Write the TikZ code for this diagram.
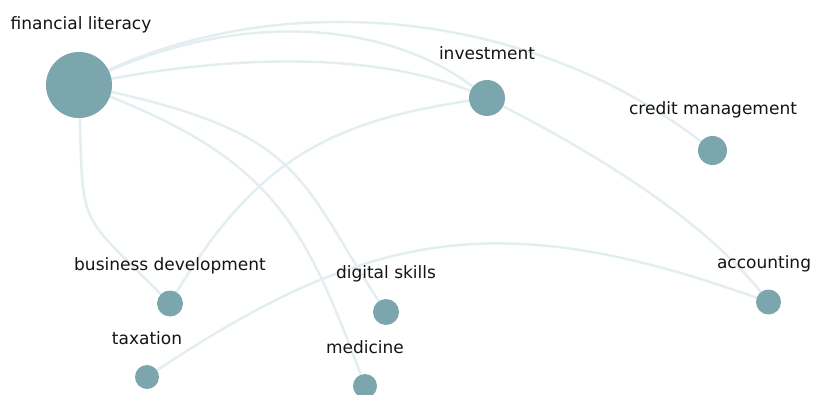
\documentclass[tikz,border=0pt]{standalone}
\usepackage{fontspec}
\setmainfont{DejaVu Sans}
\pgfdeclarelayer{bg}
\pgfdeclarelayer{edges}
\pgfsetlayers{bg,edges,main}
\definecolor{topicfill}{RGB}{123,166,173}
\definecolor{linkline}{RGB}{227,238,240}
\definecolor{labeltext}{RGB}{20,20,20}
\tikzset{
  topic/.style={circle, fill=topicfill, draw=none, inner sep=0pt, minimum size=#1},
  topiclabel/.style={anchor=base, inner sep=0pt, text=labeltext,
    font=\fontsize{17}{20}\selectfont},
  link/.style={draw=linkline, line width=2.4pt}
}
\begin{document}
\begin{tikzpicture}[x=1pt, y=-1pt]
\useasboundingbox (0,0) rectangle (818,395);
\begin{pgfonlayer}{bg}
\fill[white] (0,0) rectangle (818,395);
\end{pgfonlayer}

% topics
\node[topic=66pt] (fl)  at (79,85)    {};
\node[topic=36pt] (inv) at (487,98)   {};
\node[topic=29pt] (cm)  at (712.5,150.5) {};
\node[topic=26pt] (bd)  at (170,303.5) {};
\node[topic=26pt] (ds)  at (386,312)  {};
\node[topic=25pt] (acc) at (768.5,302) {};
\node[topic=24pt] (tax) at (147,377)  {};
\node[topic=24pt] (med) at (365,386)  {};

% labels
\node[topiclabel] (flL)  at (81,30)   {financial literacy};
\node[topiclabel] (invL) at (487,60)  {investment};
\node[topiclabel] (cmL)  at (713,115) {credit management};
\node[topiclabel] (bdL)  at (170,270) {business development};
\node[topiclabel] (dsL)  at (386,278) {digital skills};
\node[topiclabel] (taxL) at (147,344) {taxation};
\node[topiclabel] (medL) at (365,353) {medicine};
\node[topiclabel] (accL) at (764,268) {accounting};

% links
\begin{pgfonlayer}{edges}
\draw[link] (fl.center) .. controls (250,-10) and (520,-5) .. (cm.center);
\draw[link] (fl.center) .. controls (238.8,3.6) and (399.2,20.8) .. (inv.center);
\draw[link] (fl.center) .. controls (216,56) and (378,47) .. (inv.center);
\draw[link] (inv.center) .. controls (337,119.2) and (257.5,152.5) .. (bd.center);
\draw[link] (inv.center) .. controls (624,167) and (718,234) .. (acc.center);
\draw[link] (fl.center) .. controls (83.6,239.7) and (73.4,204.3) .. (bd.center);
\draw[link] (fl.center) .. controls (311,132) and (294,175) .. (ds.center);
\draw[link] (fl.center) .. controls (273.8,155.4) and (303.5,220.8) .. (med.center);
\draw[link] (tax.center) .. controls (367.4,228.3) and (500.9,204.4) .. (acc.center);
\end{pgfonlayer}
\end{tikzpicture}
\end{document}
